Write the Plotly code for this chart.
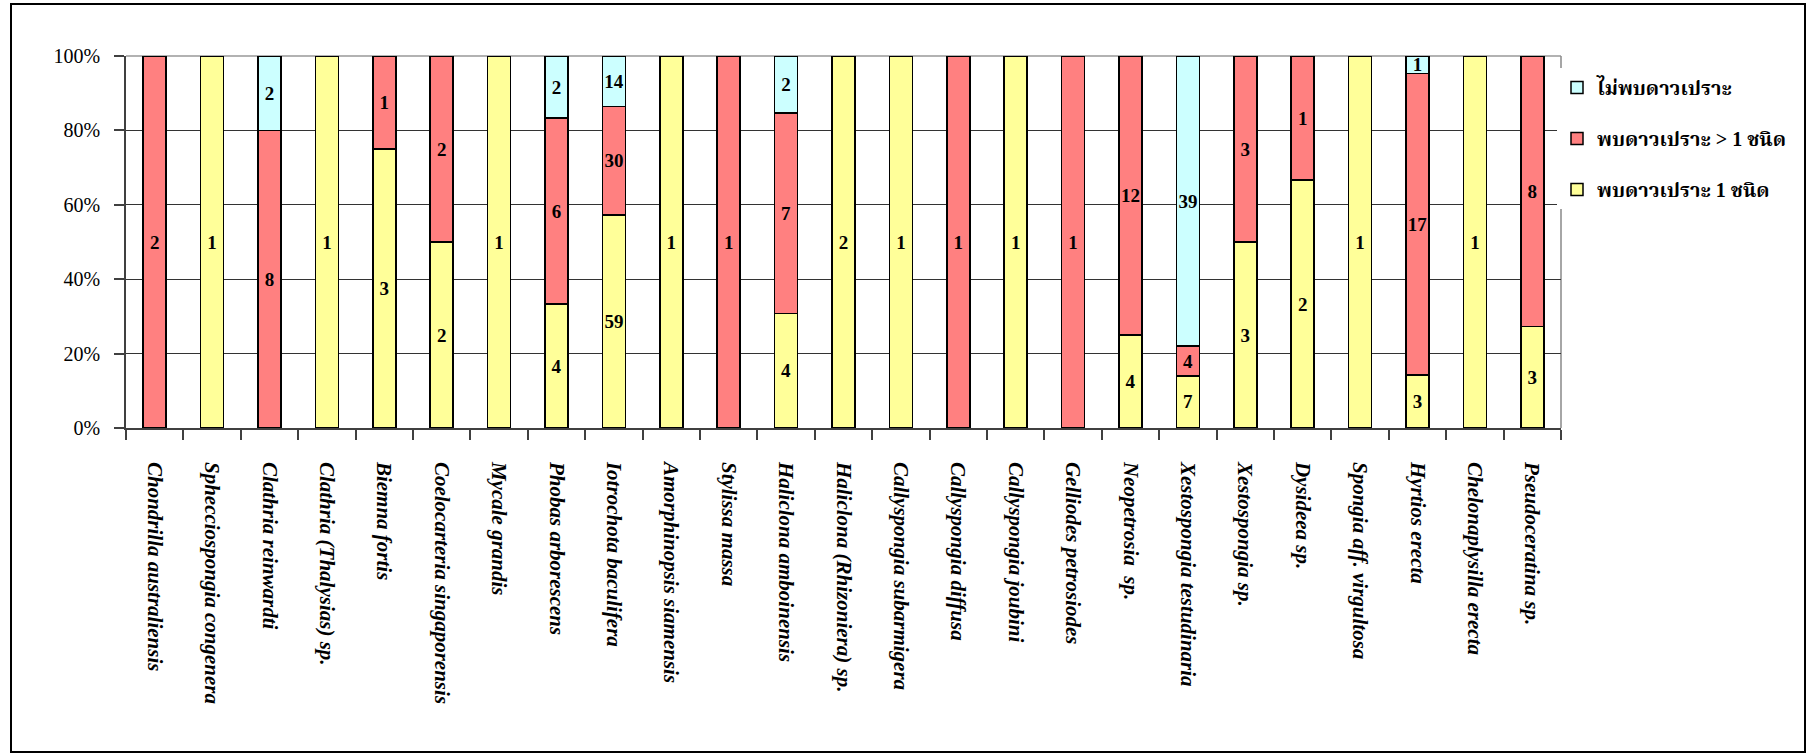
import plotly.graph_objects as go

species = [
    "Chondrilla australiensis", "Sphecciospongia congenera", "Clathria reinwardti",
    "Clathria (Thalysias) sp.", "Biemna fortis", "Coelocarteria singaporensis",
    "Mycale grandis", "Phobas arborescens", "Iotrochota baculifera",
    "Amorphinopsis siamensis", "Stylissa massa", "Haliclona amboinensis",
    "Haliclona (Rhizoniera) sp.", "Callyspongia subarmigera", "Callyspongia diffusa",
    "Callyspongia joubini", "Gelliodes petrosiodes", "Neopetrosia\u00a0 sp.",
    "Xestospongia testudinaria", "Xestospongia sp.", "Dysideea sp.",
    "Spongia aff. virgultosa", "Hyrtios erecta", "Chelonaplysilla erecta",
    "Pseudoceratina sp.",
]

# counts per category (None = segment absent)
one_species = [None, 1, None, 1, 3, 2, 1, 4, 59, 1, None, 4, 2, 1, None, 1, None, 4, 7, 3, 2, 1, 3, 1, 3]
many_species = [2, None, 8, None, 1, 2, None, 6, 30, None, 1, 7, None, None, 1, None, 1, 12, 4, 3, 1, None, 17, None, 8]
none_found = [None, None, 2, None, None, None, None, 2, 14, None, None, 2, None, None, None, None, None, None, 39, None, None, None, 1, None, None]

series_names = ["พบดาวเปราะ 1 ชนิด", "พบดาวเปราะ > 1 ชนิด", "ไม่พบดาวเปราะ"]
series_values = [one_species, many_species, none_found]
series_colors = ["#FFFF99", "#FF8080", "#CCFFFF"]
legend_ranks = [3, 2, 1]

y_ticks = [0, 20, 40, 60, 80, 100]
y_tick_text = ["0%", "20%", "40%", "60%", "80%", "100%"]

SERIF = "Liberation Serif, Times New Roman, Noto Serif Thai, Noto Sans Thai, Garuda, serif"

fig = go.Figure()
for name, vals, col, rk in zip(series_names, series_values, series_colors, legend_ranks):
    fig.add_trace(go.Bar(
        x=species, y=vals, name=name,
        marker=dict(color=col, line=dict(color="black", width=1.5)),
        text=[("" if v is None else str(v)) for v in vals],
        textposition="inside", insidetextanchor="middle", textangle=0,
        textfont=dict(family=SERIF, size=19, color="black", weight="bold"),
        legendgroup=name, legendrank=rk, hoverinfo="skip",
    ))

W, H = 1807, 754
L, R, T, B = 126, 246, 56, 326
pw = W - L - R
ph = H - T - B

def px_x(x):
    return (x - L) / pw

def px_y(y):
    return (H - B - y) / ph

fig.update_layout(
    width=W, height=H,
    margin=dict(l=L, r=R, t=T, b=B, pad=0),
    barmode="stack", barnorm="percent", bargap=0.6,
    paper_bgcolor="white", plot_bgcolor="white",
    uniformtext=dict(minsize=19, mode="show"),
    font=dict(family=SERIF, color="black"),
    legend=dict(
        x=px_x(1557), xanchor="left", y=px_y(68), yanchor="top",
        bgcolor="white", borderwidth=0,
        traceorder="grouped", tracegroupgap=22,
        font=dict(family=SERIF, size=20, color="black", weight="bold"),
        itemwidth=30,
    ),
    showlegend=True,
)

fig.update_xaxes(
    type="category", tickangle=90, tickson="boundaries",
    ticks="outside", ticklen=10, tickcolor="#404040", tickwidth=1.5,
    showline=True, linecolor="#404040", linewidth=1.5,
    showgrid=False,
    tickfont=dict(family=SERIF, size=21, color="black", weight="bold", style="italic"),
    ticklabelstandoff=28,
)
fig.update_yaxes(
    range=[0, 100], tickmode="array", tickvals=y_ticks, ticktext=y_tick_text,
    ticks="outside", ticklen=10, tickcolor="#404040", tickwidth=1.5,
    showline=True, linecolor="#404040", linewidth=1.5,
    showgrid=True, gridcolor="#333333", gridwidth=1.2,
    zeroline=False,
    tickfont=dict(family=SERIF, size=20, color="black"),
    ticklabelstandoff=10,
)

# plot-area border (top & right, gray)
fig.add_shape(type="line", xref="paper", yref="paper", x0=0, x1=1, y0=1, y1=1,
              line=dict(color="#999999", width=1.5), layer="below")
fig.add_shape(type="line", xref="paper", yref="paper", x0=1, x1=1, y0=0, y1=1,
              line=dict(color="#888888", width=1.5), layer="below")
# outer chart frame
fig.add_shape(type="rect", xref="paper", yref="paper",
              x0=px_x(11), x1=px_x(1805), y0=px_y(752), y1=px_y(4),
              line=dict(color="black", width=2), fillcolor="rgba(0,0,0,0)", layer="above")

fig.write_html("out.html")
